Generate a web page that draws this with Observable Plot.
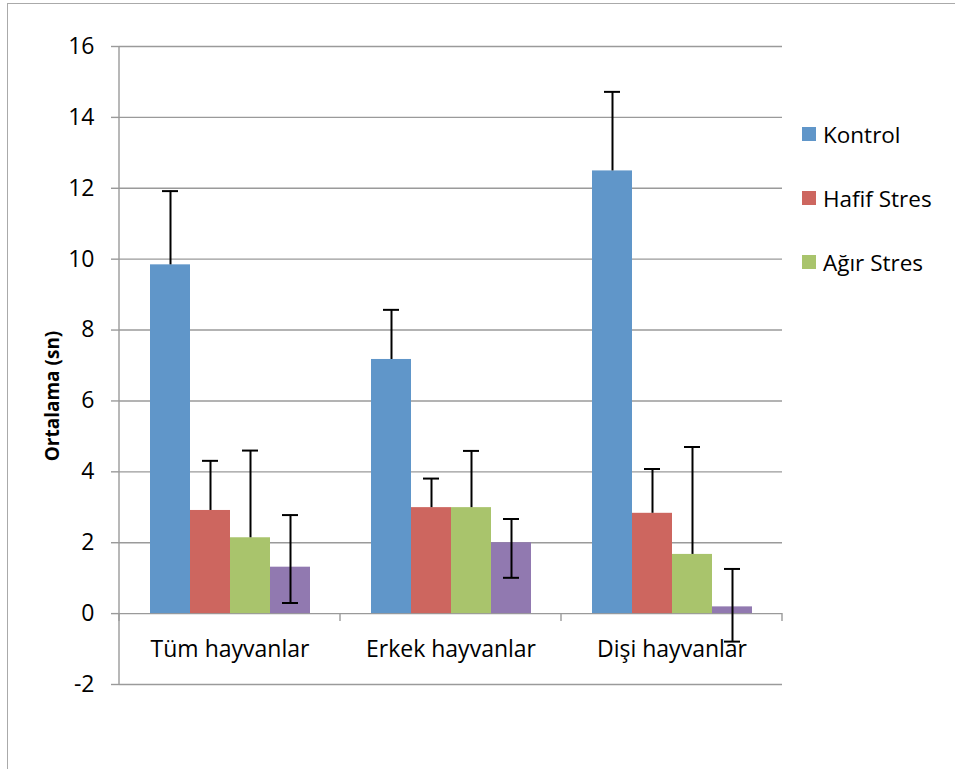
<!DOCTYPE html>
<html>
<head>
<meta charset="utf-8">
<script src="https://cdn.jsdelivr.net/npm/d3@7"></script>
<script src="https://cdn.jsdelivr.net/npm/@observablehq/plot@0.6"></script>
<style>
  html, body { margin: 0; padding: 0; background: #fff; }
  #wrap { position: relative; width: 955px; height: 769px; overflow: hidden; font-family: "Open Sans", sans-serif; }
  #border { position: absolute; left: 7px; top: 3px; right: -5px; bottom: -5px; border-left: 1.5px solid #aaa; border-top: 1.5px solid #aaa; pointer-events: none; }
  #chart { position: absolute; left: 0; top: 0; }
  .leg { position: absolute; left: 802px; display: flex; align-items: center; font-size: 22.5px; color: #000; white-space: nowrap; }
  .leg .sw { width: 14px; height: 14px; margin-right: 7px; }
</style>
</head>
<body>
<div id="wrap">
  <div id="chart"></div>
  <div id="border"></div>
  <div id="legend"></div>
</div>
<script>
const groups = ["Tüm hayvanlar", "Erkek hayvanlar", "Dişi hayvanlar"];
const series = ["Kontrol", "Hafif Stres", "Ağır Stres", "Seri 4"];
const legendSeries = ["Kontrol", "Hafif Stres", "Ağır Stres"];
const colors = ["#6096C9", "#CD665F", "#A9C46C", "#9179B0"];
const yTicks = [-2, 0, 2, 4, 6, 8, 10, 12, 14, 16];

const kontrol    = [9.84, 7.17, 12.49];
const kontrolUp  = [11.92, 8.57, 14.72];
const hafif      = [2.91, 2.99, 2.83];
const hafifUp    = [4.31, 3.81, 4.08];
const agir       = [2.14, 2.99, 1.67];
const agirUp     = [4.60, 4.59, 4.70];
const seri4      = [1.31, 2.00, 0.19];
const seri4Up    = [2.78, 2.67, 1.26];
const seri4Low   = [0.30, 1.01, -0.79];

const values = [kontrol, hafif, agir, seri4];
const highs  = [kontrolUp, hafifUp, agirUp, seri4Up];
const lows   = [kontrol, hafif, agir, seri4Low];

const data = groups.flatMap((g, i) => series.map((s, j) => ({
  group: g, series: s, value: values[j][i], high: highs[j][i], low: lows[j][i], twoSided: j === 3
})));

const W = 955, H = 769;
const plot = Plot.plot({
  width: W, height: H,
  marginLeft: 118, marginRight: 173, marginTop: 46, marginBottom: 85,
  style: { fontFamily: "Open Sans, sans-serif", fontSize: "23px", color: "#000", background: "transparent" },
  fx: { domain: groups, padding: 0, axis: null },
  x: { domain: series, paddingInner: 0, paddingOuter: 0.75, align: 0.5, axis: null },
  y: { domain: [-2, 16], ticks: yTicks, label: null },
  color: { domain: series, range: colors },
  marks: [
    Plot.gridY(yTicks, { stroke: "#9a9a9a", strokeOpacity: 1, strokeWidth: 1.4 }),
    Plot.axisY(yTicks, { tickSize: 8, tickPadding: 17, stroke: "#9a9a9a", strokeWidth: 1.4, fill: "#000", fontSize: 23, label: null, tickFormat: d => d < 0 ? "-" + Math.abs(d) : String(d) }),
    Plot.barY(data, { fx: "group", x: "series", y: "value", fill: "series" }),
    Plot.ruleX(data, { fx: "group", x: "series", y1: "low", y2: "high", stroke: "#000", strokeWidth: 2 }),
    Plot.tickY(data, { fx: "group", x: "series", y: "high", stroke: "#000", strokeWidth: 2, inset: 12 }),
    Plot.tickY(data.filter(d => d.twoSided), { fx: "group", x: "series", y: "low", stroke: "#000", strokeWidth: 2, inset: 12 }),
    Plot.text(groups, { fx: d => d, y: 0, text: d => d, frameAnchor: "middle", dy: 36, fontSize: 23, fill: "#000" })
  ]
});
document.getElementById("chart").appendChild(plot);

// axis line and category boundary tick marks, from the fx and y scales
const fx = plot.scale("fx"), ys = plot.scale("y");
const y0 = ys.apply(0);
const svg = d3.select(plot);
const xLeft = fx.apply(groups[0]);
svg.append("line").attr("x1", xLeft).attr("x2", xLeft).attr("y1", ys.apply(16)).attr("y2", ys.apply(-2))
  .attr("stroke", "#9a9a9a").attr("stroke-width", 1.4);
const bounds = new Set();
groups.forEach(g => { bounds.add(Math.round(fx.apply(g) * 10) / 10); bounds.add(Math.round((fx.apply(g) + fx.bandwidth) * 10) / 10); });
bounds.forEach(bx => {
  svg.append("line").attr("x1", bx).attr("x2", bx).attr("y1", y0).attr("y2", y0 + 8)
    .attr("stroke", "#9a9a9a").attr("stroke-width", 1.4);
});
// y axis title
const yMid = (ys.apply(-2) + ys.apply(16)) / 2;
svg.append("text").attr("transform", `translate(59,${yMid + 31}) rotate(-90)`)
  .attr("text-anchor", "middle").attr("font-weight", "bold").attr("font-size", 19)
  .attr("font-family", "Open Sans, sans-serif").attr("fill", "#000").text("Ortalama (sn)");

// legend
const legend = document.getElementById("legend");
const legTops = [134, 198, 262];
legendSeries.forEach((s, i) => {
  const el = document.createElement("div");
  el.className = "leg";
  el.style.top = (legTops[i] - 15) + "px";
  el.style.height = "30px";
  el.innerHTML = `<div class="sw" style="background:${colors[series.indexOf(s)]}"></div><span>${s}</span>`;
  legend.appendChild(el);
});
</script>
</body>
</html>
